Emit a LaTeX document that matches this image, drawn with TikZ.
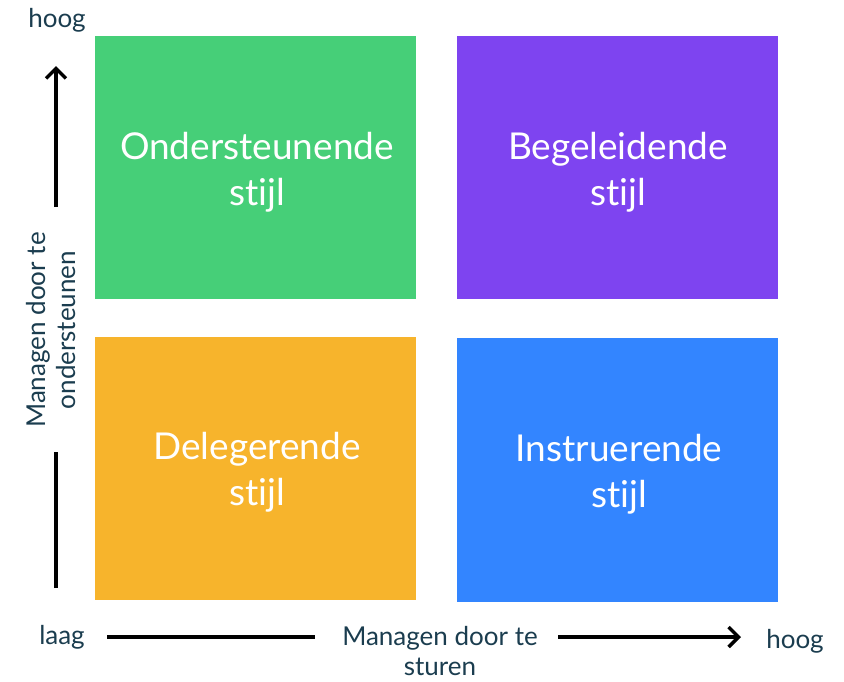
\documentclass[tikz,border=0pt]{standalone}
\usepackage{fontspec}
\setmainfont{Lato}[Ligatures=NoCommon]
\usetikzlibrary{arrows.meta}
\definecolor{cgreen}{HTML}{46CF78}
\definecolor{cpurple}{HTML}{7E44F0}
\definecolor{corange}{HTML}{F7B42C}
\definecolor{cblue}{HTML}{3385FF}
\definecolor{ctext}{HTML}{1B3D4F}
\begin{document}
\begin{tikzpicture}[x=1pt,y=-1pt,
  quad/.style={draw=none,minimum width=321pt,minimum height=263pt,inner sep=0pt},
  quadtext/.style={text=white,align=center,inner sep=0pt,font=\fontsize{37}{46}\selectfont},
  axlabel/.style={text=ctext,align=center,font=\fontsize{26}{30}\selectfont,inner sep=0pt},
  axline/.style={line width=3.5pt,black},
  axarrow/.style={line width=3.5pt,black,-{Straight Barb[length=10pt,width=20pt,line width=3.5pt]}}]
\useasboundingbox (0,0) rectangle (844,681);
\node[quad,fill=cgreen] (g) at (255.5,167.5) {};
\node[quad,fill=cpurple] (p) at (617.5,167.5) {};
\node[quad,fill=corange] (o) at (255.5,468) {};
\node[quad,fill=cblue,minimum height=264pt] (b) at (617.5,469.5) {};
\node[quadtext] (gt) at (257,172) {Ondersteunende\\stijl};
\node[quadtext] (pt) at (618,172) {Begeleidende\\stijl};
\node[quadtext] (ot) at (257,472) {Delegerende\\stijl};
\node[quadtext] (bt) at (619,474) {Instruerende\\stijl};
\node[axlabel] (vtop) at (57,20) {hoog};
\node[axlabel,rotate=90] (vlab) at (51,330) {Managen door te\\ondersteunen};
\node[axlabel] (laag) at (62,637) {laag};
\node[axlabel] (hlab) at (440,651) {Managen door te\\sturen};
\node[axlabel] (hright) at (795,641) {hoog};
\coordinate (v1) at (56,588);
\coordinate (v2) at (56,452);
\coordinate (v3) at (56,207);
\coordinate (v4) at (56,66);
\coordinate (h1) at (107,637);
\coordinate (h2) at (315,637);
\coordinate (h3) at (558,637);
\coordinate (h4) at (741,637);
\draw[axline] (v1) -- (v2);
\draw[axarrow] (v3) -- (v4);
\draw[axline] (h1) -- (h2);
\draw[axarrow] (h3) -- (h4);
\end{tikzpicture}
\end{document}
